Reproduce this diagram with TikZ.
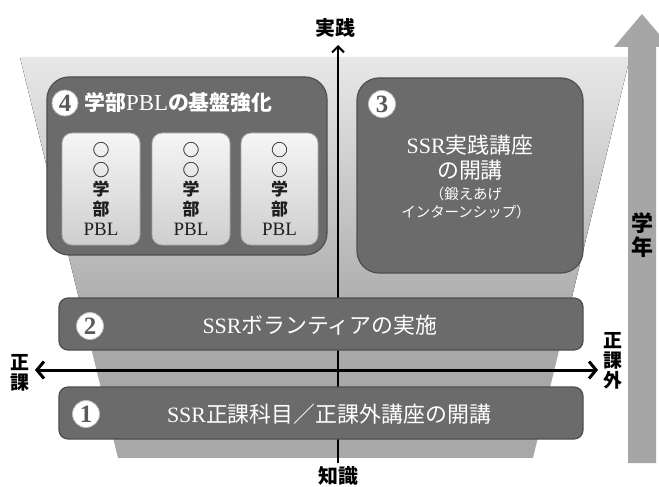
\documentclass[tikz,border=0pt]{standalone}
\usepackage{fontspec}
\setmainfont{Liberation Serif}
\newfontfamily\jp{Noto Sans CJK JP}
\newfontfamily\ser{Liberation Serif}
\usetikzlibrary{arrows.meta}
\definecolor{boxgray}{HTML}{6B6B6B}
\definecolor{boxedge}{HTML}{4F4F4F}
\definecolor{trapTop}{HTML}{E8E8E8}
\definecolor{trapBot}{HTML}{A8A8A8}
\definecolor{bigarrow}{HTML}{A6A6A6}
\definecolor{pblTop}{HTML}{F6F6F6}
\definecolor{pblBot}{HTML}{CECECE}
\definecolor{numgray}{HTML}{5A5A5A}
\definecolor{inktext}{HTML}{1E1E1E}
\tikzset{
  darkbox/.style={draw=boxedge, line width=1.2bp, fill=boxgray, inner sep=0pt},
  pblbox/.style={draw=gray!70, line width=0.8bp, rounded corners=10bp, top color=pblTop, bottom color=pblBot, inner sep=0pt, minimum width=78bp, minimum height=112bp},
  numcirc/.style={circle, fill=white, draw=gray!50, line width=0.8bp, inner sep=0pt, minimum size=26bp, text=numgray, font=\ser\bfseries\fontsize{25}{25}\selectfont},
  boxtext/.style={text=white, font=\jp\fontsize{22}{25}\selectfont, inner sep=0pt, align=center},
  subtext/.style={text=white, font=\jp\fontsize{14.5}{19}\selectfont, inner sep=0pt, align=center},
  axislabel/.style={text=black, font=\jp\bfseries\fontsize{19}{20}\selectfont, align=center, inner sep=0pt},
  pbltext/.style={text=inktext, font=\jp\bfseries\fontsize{17}{20}\selectfont, align=center, inner sep=0pt},
  axisline/.style={draw=black, line width=2bp},
}
\begin{document}
\begin{tikzpicture}[x=1bp,y=-1bp]
\useasboundingbox (0,0) rectangle (659,487);
\clip (0,0) rectangle (659,487);
% trapezoid background
\begin{scope}
  \clip (20,57) -- (630,57) -- (533,458) -- (118,458) -- cycle;
  \fill[trapBot] (0,57) rectangle (659,458);
  \fill[top color=trapTop, bottom color=trapBot] (0,57) rectangle (659,330);
\end{scope}
% big arrow
\fill[bigarrow] (628,463) -- (628,47) -- (614,47) -- (642,14) -- (670,47) -- (656,47) -- (656,463) -- cycle;
\node[axislabel, font=\jp\bfseries\fontsize{22}{24}\selectfont] (gakunen) at (642,235) {学\\年};
% labels of axes
\node[axislabel, font=\jp\bfseries\fontsize{20}{20}\selectfont] (jissen) at (335,28) {実践};
\node[axislabel, font=\jp\bfseries\fontsize{20}{20}\selectfont] (chishiki) at (338,476) {知識};
\node[axislabel] (seika) at (20,373) {正\\課};
\node[axislabel] (seikagai) at (613,361) {正\\課\\外};
% vertical axis
\coordinate (vbot) at (338,463);
\coordinate (vtop) at (338,45);
\draw[axisline, -{Straight Barb[length=6bp,width=12bp]}] (vbot) -- (vtop);
% box 4
\node[darkbox, rounded corners=22bp, minimum width=280bp, minimum height=178bp] (b4) at (187,166) {};
\node[numcirc] (n4) at (65,103) {4};
\node[boxtext, anchor=west, font=\jp\bfseries\fontsize{21}{21}\selectfont] (t4) at (84,103) {学部{\ser\mdseries\fontsize{23}{23}\selectfont PBL}の基盤強化};
\node[pblbox] (p1) at (101,189) {};
\node[pblbox] (p2) at (191,189) {};
\node[pblbox, minimum width=77bp] (p3) at (279.5,189) {};
\node[pbltext] (q1) at (p1.center) {○\\○\\学\\部\\{\ser\mdseries\fontsize{19}{20}\selectfont PBL}};
\node[pbltext] (q2) at (p2.center) {○\\○\\学\\部\\{\ser\mdseries\fontsize{19}{20}\selectfont PBL}};
\node[pbltext] (q3) at (p3.center) {○\\○\\学\\部\\{\ser\mdseries\fontsize{19}{20}\selectfont PBL}};
% box 3
\node[darkbox, rounded corners=22bp, minimum width=226bp, minimum height=195bp] (b3) at (470,175.5) {};
\node[numcirc, minimum size=27bp] (n3) at (382,104) {3};
\node[boxtext] (t3) at (470,158) {{\ser SSR}実践講座\\の開講};
\node[subtext] (s3) at (466,203) {（鍛えあげ\\インターンシップ）};
% box 2
\node[darkbox, rounded corners=9bp, minimum width=524bp, minimum height=52bp] (b2) at (321,324) {};
\node[numcirc, minimum size=27bp] (n2) at (90,326) {2};
\node[boxtext] (t2) at (320,325) {{\ser SSR}ボランティアの実施};
% box 1
\node[darkbox, rounded corners=9bp, minimum width=524bp, minimum height=52bp] (b1) at (321,413) {};
\node[numcirc, minimum size=27bp] (n1) at (86,414) {1};
\node[boxtext, font=\jp\fontsize{22}{22}\selectfont] (t1) at (329,414) {{\ser SSR}正課科目／正課外講座の開講};
% horizontal axis
\coordinate (hleft) at (35,370);
\coordinate (hright) at (598,370);
\draw[axisline, line width=3bp, {Straight Barb[length=7bp,width=17bp]}-{Straight Barb[length=7bp,width=17bp]}] (hleft) -- (hright);
\end{tikzpicture}
\end{document}
